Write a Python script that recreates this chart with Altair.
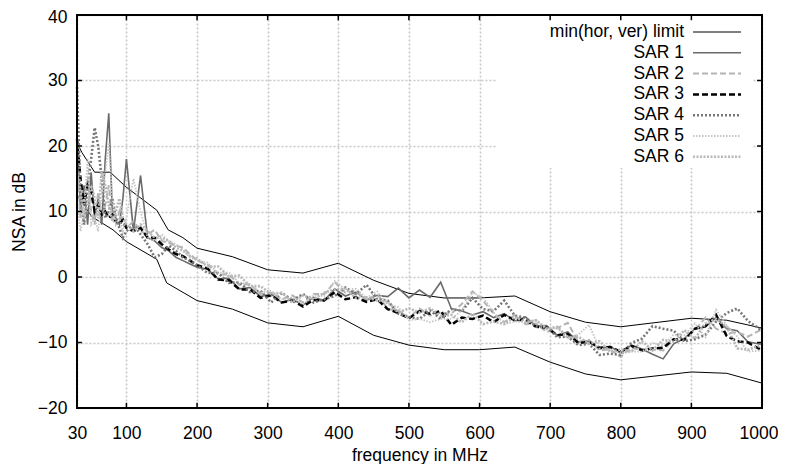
import altair as alt
import pandas as pd

FONT = "Liberation Sans"

# ---------------- data ----------------
freq = [30, 35, 40, 45, 50, 55, 60, 65, 70, 75, 80, 85, 90, 95, 100,
        110, 120, 130, 140, 150, 160, 170, 180, 190, 200,
        215, 230, 245, 260, 275, 290, 305, 320, 335, 350, 365, 380, 395,
        410, 425, 440, 455, 470, 485, 500, 515, 530, 545, 560, 575, 590,
        605, 620, 635, 650, 665, 680, 695, 710, 725, 740, 755, 770, 785,
        800, 815, 830, 845, 860, 875, 890, 905, 920, 935, 950, 965, 980, 1000]

sar1 = [22, 10, 14, 8, 16, 9, 12, 8, 18, 25, 10, 9, 8, 12, 18,
        7, 15.5, 6, 5.5, 4.5, 4, 3, 2.5, 2, 1.5,
        1.2, -0.3, -0.2, -1.8, -1.6, -3.0, -2.6, -3.9, -3.4, -4.3, -3.1, -3.6, -1.8,
        -2.9, -2.3, -3.5, -2.8, -3.0, -1.7, -3.2, -2.0, -3.1, -0.8, -4.8, -5.2, -5.8,
        -5.3, -6.2, -5.6, -6.7, -6.1, -7.5, -7.4, -8.9, -8.4, -9.9, -9.8, -11.0, -10.6,
        -11.6, -10.4, -11.0, -11.8, -12.5, -10.2, -9.4, -7.9, -7.6, -6.2, -7.9, -8.2, -9.9, -10.3]

sar2 = [18, 9, 12, 15, 10, 8, 13, 9, 11, 14, 9, 8, 10, 8, 7.5,
        8.5, 7, 6.5, 7.2, 5.5, 5.2, 4.8, 4.5, 3.5, 2.5,
        1.9, 0.4, 0.4, -1.2, -1.1, -2.6, -2.4, -3.4, -2.8, -3.9, -2.6, -2.6, -0.8,
        -2.4, -2.1, -3.6, -2.6, -4.9, -5.1, -6.2, -4.8, -5.9, -5.4, -5.6, -4.1, -2.2,
        -3.6, -5.6, -6.9, -5.8, -7.2, -7.1, -8.4, -7.8, -7.0, -9.9, -9.6, -11.2, -11.1,
        -12.2, -10.8, -11.2, -11.1, -11.2, -9.6, -9.4, -8.1, -6.2, -7.9, -8.6, -8.4, -9.1, -8.0]

sar3 = [21, 15, 11, 14, 13, 10, 11, 9.5, 10, 9, 9.5, 8.5, 8, 8.8, 7.5,
        7, 7.5, 6, 6, 5, 4.2, 3.5, 3.2, 2.5, 1.8,
        1.3, -0.4, -0.5, -1.9, -1.9, -3.2, -2.8, -3.9, -3.6, -4.5, -3.5, -3.6, -2.3,
        -3.4, -3.1, -3.8, -3.4, -4.9, -5.5, -6.3, -5.2, -5.6, -5.2, -7.3, -6.2, -6.4,
        -5.9, -6.9, -5.8, -6.6, -6.5, -7.6, -7.7, -8.9, -8.7, -10.1, -9.9, -10.8, -10.7,
        -11.4, -10.5, -11.2, -10.9, -10.8, -9.5, -9.6, -7.9, -7.5, -5.8, -9.0, -9.8, -10.0, -11.2]

sar4 = [29, 12, 8, 14, 18, 22.8, 20, 15, 9, 10, 12, 9, 7.5, 6, 7,
        8, 6.5, 5, 3, 3.5, 4.8, 4, 3, 2.5, 1.8,
        0.6, 0.6, -0.9, -0.8, -2.3, -2.1, -3.9, -2.4, -3.6, -2.6, -3.9, -3.4, -2.9,
        -1.6, -2.6, -1.2, -3.4, -3.6, -5.6, -6.1, -6.4, -5.1, -6.4, -4.9, -5.2, -3.2,
        -4.9, -5.2, -3.6, -5.9, -6.2, -7.6, -7.5, -9.2, -9.1, -10.4, -10.2, -11.9, -11.7,
        -11.9, -10.1, -9.4, -7.5, -7.9, -8.2, -9.8, -9.5, -8.8, -6.8, -5.5, -4.8, -6.7, -8.2]

sar5 = [12, 7, 10, 18, 8, 9, 7, 12, 16, 20.5, 12, 8, 9, 7, 9,
        15, 10, 6, 5.5, 6.5, 5.5, 5, 4.2, 3, 2.5,
        2.2, 0.6, 0.7, -0.9, -1.1, -2.4, -2.1, -3.4, -3.1, -4.2, -2.8, -2.9, -0.6,
        -1.9, -1.8, -3.2, -2.2, -4.2, -4.6, -6.6, -6.4, -6.9, -6.4, -6.4, -5.1, -2.4,
        -3.1, -5.4, -7.2, -6.8, -6.9, -6.6, -7.9, -7.8, -9.4, -8.8, -7.3, -10.9, -11.1,
        -11.6, -11.4, -11.4, -10.1, -10.4, -8.8, -8.9, -7.1, -9.2, -5.0, -7.4, -9.1, -11.4, -11.2]

sar6 = [16, 13, 9, 11, 14, 12, 9, 16, 14, 11, 8.5, 10, 12, 9, 8,
        7, 8, 7, 6, 6, 5.5, 4.5, 4, 3.2, 2.8,
        1.6, 1.6, 0.1, 0.2, -1.4, -1.4, -2.6, -2.4, -3.9, -2.8, -3.4, -2.4, -1.9,
        -1.8, -3.2, -3.1, -3.6, -3.8, -5.4, -4.8, -5.4, -4.8, -5.9, -5.8, -6.9, -5.6,
        -7.2, -6.8, -7.2, -6.1, -6.9, -6.6, -7.9, -7.6, -9.2, -9.1, -10.2, -9.8, -11.4,
        -11.1, -11.4, -9.8, -11.2, -9.6, -9.9, -8.1, -9.4, -7.1, -6.4, -7.6, -10.9, -11.1, -10.4]

upper_f = [30, 37, 55, 77, 100, 143, 159, 180, 200, 250, 300, 350, 400, 450,
           500, 550, 600, 650, 700, 750, 800, 900, 950, 1000]
upper_v = [20.5, 19, 16, 16, 13.7, 10.2, 7.2, 6, 4.4, 3.1, 1.1, 0.6, 2.1, -0.5,
           -2.5, -3.2, -3.2, -2.9, -5.3, -6.9, -7.6, -6.3, -6.6, -7.8]
lower_f = [30, 51, 81, 100, 143, 157, 200, 250, 300, 350, 400, 450, 500, 550,
           600, 650, 700, 750, 800, 900, 950, 1000]
lower_v = [12.5, 9.2, 7.2, 5.4, 2.7, -0.9, -3.6, -4.9, -7, -7.6, -6, -8.9, -10.4, -11.1,
           -11.1, -10.7, -13, -14.8, -15.7, -14.5, -14.7, -16.2]

x_ticks = [30, 100, 200, 300, 400, 500, 600, 700, 800, 900, 1000]
y_ticks = [-20, -10, 0, 10, 20, 30, 40]

legend_labels = ["min(hor, ver) limit", "SAR 1", "SAR 2", "SAR 3", "SAR 4", "SAR 5", "SAR 6"]

# ---------------- styles ----------------
styles = {
    "min(hor, ver) limit": dict(color="#000000", strokeWidth=1.0),
    "SAR 1": dict(color="#6a6a6a", strokeWidth=1.6),
    "SAR 2": dict(color="#b4b4b4", strokeWidth=2.0, strokeDash=[6, 3]),
    "SAR 3": dict(color="#000000", strokeWidth=2.5, strokeDash=[6, 3]),
    "SAR 4": dict(color="#777777", strokeWidth=2.6, strokeDash=[2, 2]),
    "SAR 5": dict(color="#c4c4c4", strokeWidth=1.8, strokeDash=[1.5, 1.5]),
    "SAR 6": dict(color="#b8b8b8", strokeWidth=2.6, strokeDash=[2, 1.5]),
}

xscale = alt.Scale(domain=[30, 1000], nice=False, zero=False)
yscale = alt.Scale(domain=[-20, 40], nice=False, zero=False)

xaxis = alt.Axis(
    values=x_ticks, format="d", title="frequency in MHz", grid=True, ticks=False,
    domain=False, labelPadding=16, labelFlush=False, titleY=52,
    titleBaseline="alphabetic",
    labelAlign={"condition": {"test": "datum.value >= 1000", "value": "right"}, "value": "center"},
    labelOffset={"condition": {"test": "datum.value >= 1000", "value": 16}, "value": 0},
)
yaxis = alt.Axis(
    values=y_ticks, format="d", title="NSA in dB", grid=True, ticks=False,
    domain=False, labelPadding=10, labelFlush=False, titleX=-53, titleY=196.5, titleAngle=270,
    titleAlign="center", titleBaseline="alphabetic",
    labelOffset={"condition": {"test": "datum.value >= 40", "value": 2}, "value": 0},
)


def X(field):
    return alt.X(field, type="quantitative", scale=xscale, axis=xaxis)


def Y(field):
    return alt.Y(field, type="quantitative", scale=yscale, axis=yaxis)


layers = []

# white legend box (covers grid)
layers.append(
    alt.Chart(pd.DataFrame({"a": [0]})).mark_rect(fill="white").encode(
        x=alt.value(419), x2=alt.value(675), y=alt.value(1), y2=alt.value(153))
)

# limit lines
lim_df = pd.concat([
    pd.DataFrame({"freq": upper_f, "val": upper_v, "part": "upper"}),
    pd.DataFrame({"freq": lower_f, "val": lower_v, "part": "lower"}),
])
layers.append(
    alt.Chart(lim_df).mark_line(**styles["min(hor, ver) limit"]).encode(
        x=X("freq"), y=Y("val"), detail="part:N")
)

for name, vals in [("SAR 1", sar1), ("SAR 2", sar2), ("SAR 3", sar3),
                   ("SAR 4", sar4), ("SAR 5", sar5), ("SAR 6", sar6)]:
    df = pd.DataFrame({"freq": freq, "val": vals})
    layers.append(
        alt.Chart(df).mark_line(**styles[name]).encode(x=X("freq"), y=Y("val"))
    )

# inward ticks
xt_in = [v for v in x_ticks if 30 < v < 1000]
yt_in = [v for v in y_ticks if -20 < v < 40]
tick_x_df = pd.DataFrame({
    "freq": xt_in + xt_in,
    "val": [-20] * len(xt_in) + [40] * len(xt_in),
    "val2": [-19.2] * len(xt_in) + [39.2] * len(xt_in),
})
tick_y_df = pd.DataFrame({
    "freq": [30] * len(yt_in) + [1000] * len(yt_in),
    "freq2": [37] * len(yt_in) + [993] * len(yt_in),
    "val": yt_in + yt_in,
})
layers.append(
    alt.Chart(tick_x_df).mark_rule(color="black", strokeWidth=1.5).encode(
        x=X("freq"), y=Y("val"), y2="val2")
)
layers.append(
    alt.Chart(tick_y_df).mark_rule(color="black", strokeWidth=1.5).encode(
        x=X("freq"), x2="freq2", y=Y("val"))
)

# frame
frame_df = pd.DataFrame({"x1": [30], "x2": [1000], "y1": [-20], "y2": [40]})
layers.append(
    alt.Chart(frame_df).mark_rect(filled=False, stroke="black", strokeWidth=2).encode(
        x=X("x1"), x2="x2", y=Y("y1"), y2="y2")
)

# legend entries
for i, name in enumerate(legend_labels):
    yy = 17 + 20.8 * i
    st = styles[name]
    layers.append(
        alt.Chart(pd.DataFrame({"label": [name]})).mark_text(
            align="right", baseline="middle", font=FONT, fontSize=17.5, color="black").encode(
            x=alt.value(607), y=alt.value(yy), text="label:N")
    )
    layers.append(
        alt.Chart(pd.DataFrame({"label": [name]})).mark_rule(**st).encode(
            x=alt.value(616), x2=alt.value(664), y=alt.value(yy))
    )

chart = alt.layer(*layers).properties(
    width=685, height=393,
    autosize=alt.AutoSizeParams(type="none"),
    padding={"left": 69, "top": 7, "right": 16, "bottom": 56},
).configure_view(stroke=None).configure_axis(
    labelFont=FONT, labelFontSize=17.5, labelColor="black",
    titleFont=FONT, titleFontSize=17.5, titleColor="black", titleFontWeight="normal",
    gridColor="#c8c8c8", gridDash=[2, 2], gridWidth=1.6,
)

chart.save("out.html", embed_options={"renderer": "svg", "actions": False})
